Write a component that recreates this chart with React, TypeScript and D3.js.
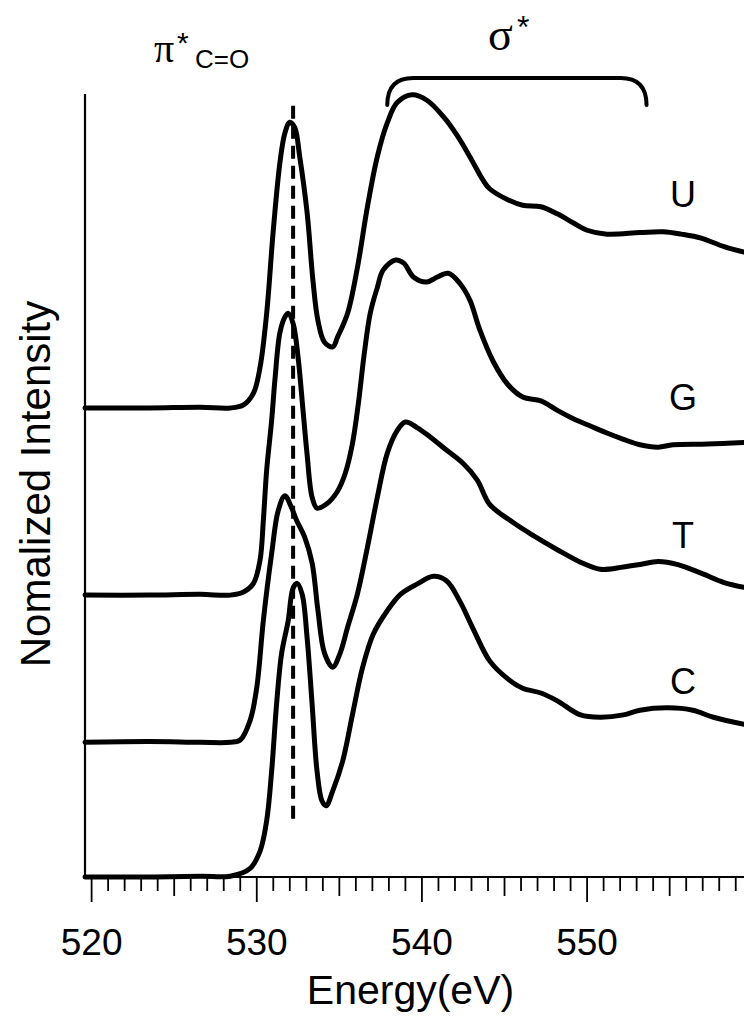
import React from "react";
import * as d3 from "d3";

// Photon energy axis (eV) and labelled ticks
const energyDomain: [number, number] = [519.6, 559.5];
const tickLabels = [520, 530, 540, 550];
const minorTicks = d3.range(520, 560, 1);

// O 1s NEXAFS spectra, intensity above each spectrum's own pre-edge baseline
const uracilEnergy = [519.6, 523.5, 526.6, 528.4, 529.2, 529.8, 530.2, 530.6, 531.0, 531.4, 531.7, 532.0, 532.3, 532.6, 533.05, 533.4, 533.7, 534.1, 534.6, 534.9, 535.5, 536.1, 536.7, 537.3, 537.9, 538.5, 539.4, 540.3, 541.3, 542.1, 542.9, 543.7, 544.1, 545.2, 546.1, 547.2, 548.2, 549.2, 550.0, 551.2, 553.2, 554.6, 555.7, 556.9, 558.3, 559.5];
const uracilIntensity = [0, 0, 0.01, 0, 0.04, 0.19, 0.52, 1.21, 2.27, 3.13, 3.51, 3.65, 3.58, 3.21, 2.49, 1.63, 1.12, 0.84, 0.78, 0.91, 1.21, 1.8, 2.57, 3.21, 3.64, 3.9, 4.0, 3.93, 3.72, 3.49, 3.21, 2.91, 2.8, 2.66, 2.59, 2.57, 2.48, 2.36, 2.27, 2.22, 2.24, 2.25, 2.22, 2.17, 2.06, 1.99];

const guanineEnergy = [519.6, 523.5, 526.6, 528.4, 529.2, 529.8, 530.2, 530.4, 530.6, 530.9, 531.1, 531.4, 531.7, 531.9, 532.2, 532.5, 532.8, 533.05, 533.35, 533.65, 534.26, 534.87, 535.35, 535.78, 536.14, 536.5, 536.87, 537.3, 537.65, 538.4, 538.9, 539.5, 540.3, 540.9, 541.6, 542.3, 542.9, 543.5, 544.3, 545.2, 546.1, 547.2, 548.2, 549.2, 550.2, 551.2, 552.2, 553.2, 554.3, 555.2, 557.3, 559.5];
const guanineIntensity = [0, 0, 0.01, 0, 0.04, 0.15, 0.45, 0.96, 1.6, 2.23, 2.75, 3.35, 3.55, 3.6, 3.47, 3.04, 2.36, 1.79, 1.25, 1.11, 1.17, 1.32, 1.55, 1.92, 2.43, 3.07, 3.6, 3.93, 4.15, 4.28, 4.24, 4.06, 4.0, 4.06, 4.11, 3.98, 3.77, 3.39, 2.99, 2.69, 2.53, 2.48, 2.36, 2.25, 2.16, 2.07, 1.99, 1.92, 1.89, 1.92, 1.93, 1.95];

const thymineEnergy = [519.6, 523.5, 526.6, 528.4, 529.0, 529.6, 530.0, 530.4, 530.9, 531.3, 531.7, 532.1, 532.4, 532.9, 533.35, 533.7, 534.1, 534.6, 535.05, 535.5, 536.1, 536.7, 537.3, 537.9, 538.5, 539.0, 539.7, 540.5, 541.5, 542.5, 543.35, 544.1, 545.5, 546.75, 548.2, 549.6, 550.8, 552.2, 553.2, 554.3, 555.5, 556.9, 558.3, 559.5];
const thymineIntensity = [0, 0.01, 0, 0, 0.03, 0.28, 0.7, 1.56, 2.41, 2.96, 3.15, 3.0, 2.84, 2.62, 2.29, 1.69, 1.14, 0.96, 1.14, 1.47, 1.9, 2.49, 3.13, 3.69, 3.98, 4.09, 4.02, 3.9, 3.73, 3.56, 3.35, 3.04, 2.81, 2.64, 2.46, 2.3, 2.21, 2.24, 2.27, 2.31, 2.27, 2.16, 2.04, 1.98];

const cytosineEnergy = [519.6, 523.5, 526.6, 528.4, 529.6, 530.2, 530.6, 530.9, 531.2, 531.5, 531.9, 532.2, 532.45, 532.75, 533.05, 533.35, 533.65, 533.95, 534.2, 534.6, 535.2, 535.8, 536.4, 537.05, 537.9, 538.7, 539.7, 540.7, 541.5, 542.3, 543.1, 544.1, 545.2, 546.1, 547.2, 548.2, 549.6, 550.8, 552.2, 553.2, 554.9, 556.4, 557.65, 559.5];
const cytosineIntensity = [0, 0, 0.01, 0.01, 0.11, 0.33, 0.72, 1.35, 2.21, 2.85, 3.27, 3.69, 3.75, 3.61, 3.05, 2.21, 1.35, 0.97, 0.91, 1.1, 1.48, 2.08, 2.67, 3.1, 3.4, 3.61, 3.74, 3.84, 3.78, 3.52, 3.17, 2.76, 2.53, 2.41, 2.35, 2.25, 2.07, 2.04, 2.07, 2.13, 2.16, 2.13, 2.04, 1.95];

// Vertical stacking offsets of the four bases
const baseNames = ["U", "G", "T", "C"];
const baseOffsets = [5.99, 3.6, 1.72, 0];

// π*(C=O) resonance marker and σ* region
const piEnergy = 532.2;
const sigmaRange: [number, number] = [537.9, 553.6];

const W = 744;
const H = 1016;
const margin = { left: 85, right: 0, top: 94, bottom: 139 };

export default function App() {
  const x = d3.scaleLinear().domain(energyDomain).range([margin.left, W - margin.right]);
  const y = d3.scaleLinear().domain([0, 10]).range([H - margin.bottom, margin.top]);
  const axisY = y(0);

  const spectra = [
    { e: uracilEnergy, v: uracilIntensity },
    { e: guanineEnergy, v: guanineIntensity },
    { e: thymineEnergy, v: thymineIntensity },
    { e: cytosineEnergy, v: cytosineIntensity },
  ];

  const lineFor = (offset: number) =>
    d3
      .line<[number, number]>()
      .x((d) => x(d[0]))
      .y((d) => y(d[1] + offset))
      .curve(d3.curveCatmullRom.alpha(0.5));

  // anchor heights (intensity units) and energy for the base letters
  const labelLevels = [8.56, 5.96, 4.2, 2.34];
  const labelEnergy = 555.8;

  const sx0 = x(sigmaRange[0]);
  const sx1 = x(sigmaRange[1]);
  const bracketTop = 78;
  const bracketEnd = 105;
  const r = 26;
  const bracketPath = `M${sx0},${bracketEnd} Q${sx0},${bracketTop} ${sx0 + r},${bracketTop} L${sx1 - r},${bracketTop} Q${sx1},${bracketTop} ${sx1},${bracketEnd}`;

  const sans = "'Liberation Sans', Arial, Helvetica, sans-serif";
  const serif = "'Liberation Serif', 'Times New Roman', serif";

  return (
    <>
      <style>{`body{margin:0;background:#fff}`}</style>
      <svg width={W} height={H} viewBox={`0 0 ${W} ${H}`} style={{ display: "block", background: "#fff" }}>
        {/* axes */}
        <line x1={margin.left} x2={margin.left} y1={margin.top} y2={axisY} stroke="#000" strokeWidth={2.2} />
        <line x1={margin.left} x2={W} y1={axisY} y2={axisY} stroke="#000" strokeWidth={2.2} />
        {minorTicks.map((t) => {
          const len = t % 10 === 0 ? 25 : t % 5 === 0 ? 19 : 14;
          return (
            <line key={t} x1={x(t)} x2={x(t)} y1={axisY} y2={axisY + len} stroke="#000" strokeWidth={1.8} />
          );
        })}
        {tickLabels.map((t) => (
          <text key={t} x={x(t)} y={955} textAnchor="middle" fontFamily={sans} fontSize={37} fill="#000">
            {t}
          </text>
        ))}
        <text x={(margin.left + W) / 2 - 4} y={1004} textAnchor="middle" fontFamily={sans} fontSize={41} fill="#000">
          Energy(eV)
        </text>
        <text
          transform={`translate(50,${484}) rotate(-90)`}
          textAnchor="middle"
          fontFamily={sans}
          fontSize={42}
          fill="#000"
        >
          Nomalized Intensity
        </text>

        {/* π* marker */}
        <line
          x1={x(piEnergy)}
          x2={x(piEnergy)}
          y1={y(9.85)}
          y2={y(0.69)}
          stroke="#000"
          strokeWidth={4}
          strokeDasharray="13 7"
        />

        {/* spectra */}
        {spectra.map((s, i) => (
          <path
            key={baseNames[i]}
            d={lineFor(baseOffsets[i])(s.e.map((e, j) => [e, s.v[j]] as [number, number])) ?? ""}
            fill="none"
            stroke="#000"
            strokeWidth={5}
            strokeLinejoin="round"
            strokeLinecap="round"
          />
        ))}
        {baseNames.map((n, i) => (
          <text key={n} x={x(labelEnergy)} y={y(labelLevels[i])} textAnchor="middle" fontFamily={sans} fontSize={36} fill="#000">
            {n}
          </text>
        ))}

        {/* σ* bracket */}
        <path d={bracketPath} fill="none" stroke="#000" strokeWidth={4} strokeLinecap="round" />

        {/* resonance labels */}
        <text x={154} y={62} fontFamily={serif} fontSize={40} fill="#000">π</text>
        <text x={177} y={53} fontFamily={sans} fontSize={30} fill="#000">*</text>
        <text x={195} y={68} fontFamily={sans} fontSize={26} fill="#000">C=O</text>
        <text x={488} y={50} fontFamily={serif} fontSize={46} fill="#000">σ</text>
        <text x={517} y={38} fontFamily={sans} fontSize={32} fill="#000">*</text>
      </svg>
    </>
  );
}
